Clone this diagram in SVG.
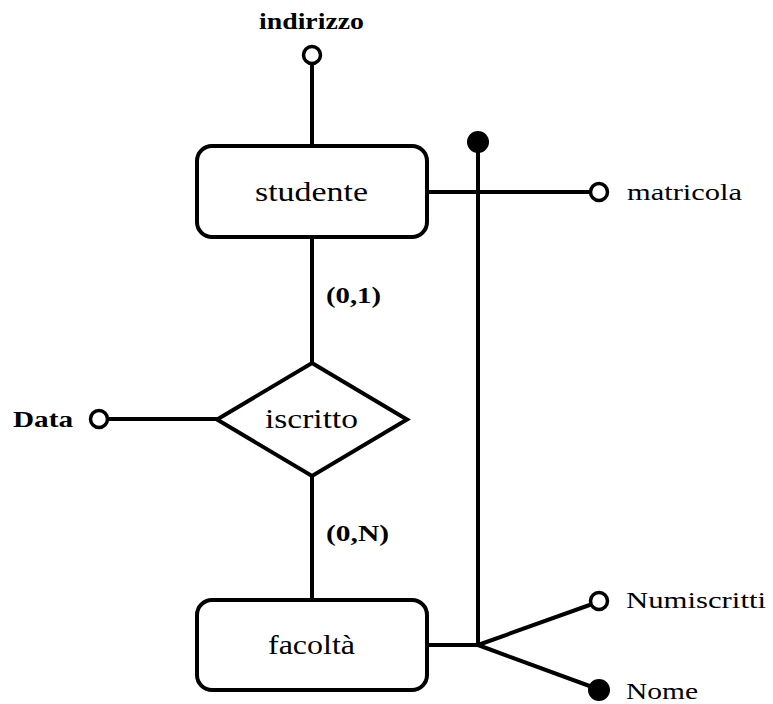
<svg xmlns="http://www.w3.org/2000/svg" width="773" height="704" viewBox="0 0 773 704">
  <style>
    .box { fill: #ffffff; stroke: #000000; stroke-width: 4; }
    .ln { fill: none; stroke: #000000; stroke-width: 4; }
    .open { fill: #ffffff; stroke: #000000; stroke-width: 3.5; }
    .full { fill: #000000; stroke: none; }
    .t { font-family: "Liberation Serif", "Times New Roman", serif; fill: #000000; }
    .big { font-size: 27px; }
    .sm { font-size: 24px; }
    .b { font-weight: bold; }
  </style>
  <rect width="773" height="704" fill="#ffffff"/>
  <g id="connectors">
    <line class="ln" x1="312" y1="64" x2="312" y2="146"/>
    <line class="ln" x1="312" y1="237" x2="312" y2="363"/>
    <line class="ln" x1="312" y1="476" x2="312" y2="600"/>
    <line class="ln" x1="108" y1="419" x2="217" y2="419"/>
    <line class="ln" x1="427" y1="192" x2="590" y2="192"/>
    <line class="ln" x1="478" y1="142" x2="478" y2="647"/>
    <line class="ln" x1="427" y1="645" x2="480" y2="645"/>
    <line class="ln" x1="478" y1="645" x2="591" y2="604.5"/>
    <line class="ln" x1="478" y1="645" x2="595" y2="688"/>
  </g>
  <g id="studente">
    <rect class="box" x="197" y="146" width="230" height="91" rx="15" ry="15"/>
    <text class="t big" x="255" y="201" textLength="113" lengthAdjust="spacingAndGlyphs">studente</text>
  </g>
  <g id="iscritto">
    <polygon class="box" points="312,363 407,419.5 312,476 217,419.5"/>
    <text class="t big" x="265" y="428" textLength="93" lengthAdjust="spacingAndGlyphs">iscritto</text>
  </g>
  <g id="facolta">
    <rect class="box" x="197" y="600" width="230" height="90" rx="15" ry="15"/>
    <text class="t big" x="268" y="654" textLength="87" lengthAdjust="spacingAndGlyphs">facoltà</text>
  </g>
  <g id="attr-indirizzo">
    <circle class="open" cx="312" cy="55" r="8.5"/>
    <text class="t sm b" x="259" y="29" textLength="105" lengthAdjust="spacingAndGlyphs">indirizzo</text>
  </g>
  <g id="attr-matricola">
    <circle class="open" cx="599" cy="192" r="8.5"/>
    <text class="t sm" x="627" y="200" textLength="115" lengthAdjust="spacingAndGlyphs">matricola</text>
  </g>
  <g id="attr-data">
    <circle class="open" cx="99" cy="419" r="8.5"/>
    <text class="t sm b" x="13" y="427" textLength="60" lengthAdjust="spacingAndGlyphs">Data</text>
  </g>
  <g id="card-studente">
    <text class="t sm b" x="326" y="303" textLength="55" lengthAdjust="spacingAndGlyphs">(0,1)</text>
  </g>
  <g id="card-facolta">
    <text class="t sm b" x="326" y="541" textLength="63" lengthAdjust="spacingAndGlyphs">(0,N)</text>
  </g>
  <g id="id-studente">
    <circle class="full" cx="478" cy="142" r="11"/>
  </g>
  <g id="attr-numiscritti">
    <circle class="open" cx="599" cy="601" r="8.5"/>
    <text class="t sm" x="626" y="608" textLength="140" lengthAdjust="spacingAndGlyphs">Numiscritti</text>
  </g>
  <g id="attr-nome">
    <circle class="full" cx="599" cy="690" r="11"/>
    <text class="t sm" x="626" y="699" textLength="72" lengthAdjust="spacingAndGlyphs">Nome</text>
  </g>
</svg>
